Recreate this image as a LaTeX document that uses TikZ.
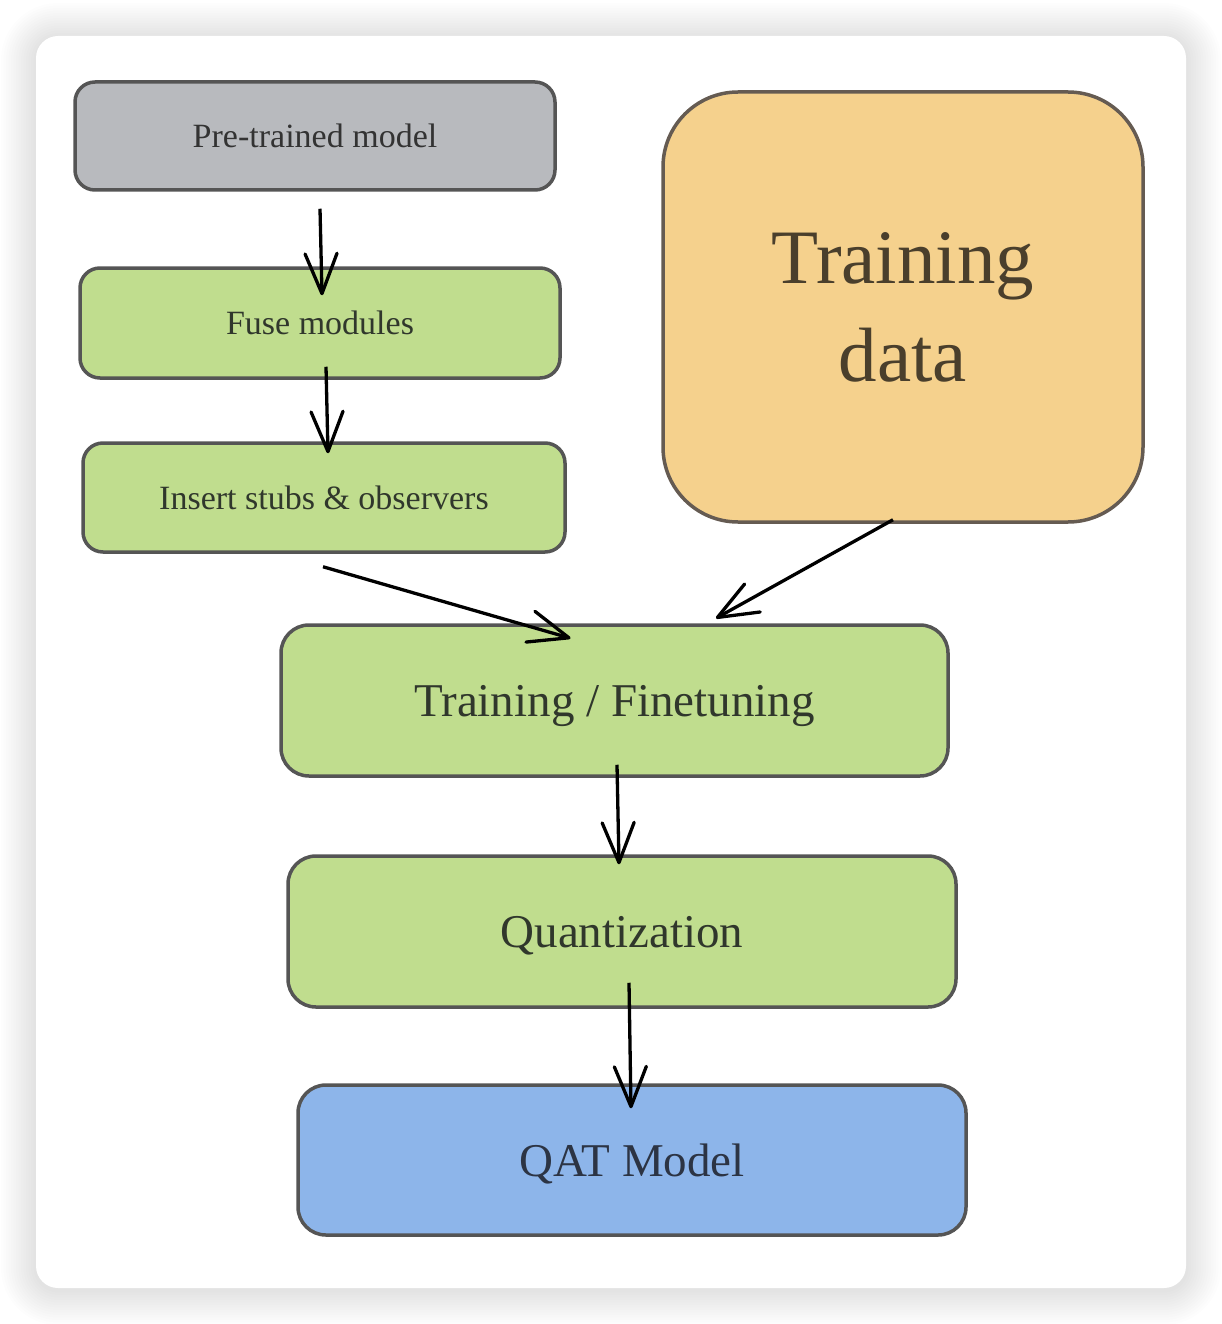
\documentclass[tikz,border=0pt]{standalone}
\usepackage{fontspec}
\setmainfont{Liberation Serif}
\usepackage{tikz}
\usetikzlibrary{arrows.meta}
\definecolor{modelgray}{HTML}{B8BABE}
\definecolor{stepgreen}{HTML}{C0DD8E}
\definecolor{dataorange}{HTML}{F5D18D}
\definecolor{qatblue}{HTML}{8DB5EA}
\definecolor{edge}{HTML}{555555}
\definecolor{ink}{HTML}{30372C}
\definecolor{dataink}{HTML}{4A3F2C}
\definecolor{qatink}{HTML}{2C3444}

\begin{document}
\begin{tikzpicture}[x=1pt,y=-1pt,
  box/.style={draw=edge, line width=3.5pt, rounded corners=20pt, inner sep=0pt, text=ink, text depth=0pt},
  smallbox/.style={box, minimum width=480pt, minimum height=108pt, font=\fontsize{34}{40}\selectfont},
  bigbox/.style={box, minimum width=668pt, minimum height=151pt, rounded corners=28pt, font=\fontsize{47}{56}\selectfont},
  flow/.style={line width=3.3pt, -{Straight Barb[length=40pt,width=32pt,round]}}]
\useasboundingbox (0,0) rectangle (1222,1324);
\fill[white] (0,0) rectangle (1222,1324);
% card + soft shadow
\foreach \i in {1,...,14}
  \fill[black, opacity=0.007, rounded corners={22+\i*2.5}]
    ({36-\i*2.5},{36-\i*2.5+2}) rectangle ({1186+\i*2.5},{1288+\i*2.5+2});
\fill[white, rounded corners=22pt] (36,36) rectangle (1186,1288);

% boxes
\node[smallbox, fill=modelgray, text=black!80] (pre) at (315,136) {Pre-trained model};
\node[smallbox, fill=stepgreen, minimum height=110pt] (fuse) at (320,323) {Fuse modules};
\node[smallbox, fill=stepgreen, minimum width=482pt, minimum height=109pt] (stubs) at (324,497.5) {Insert stubs \& observers};
\node[box, fill=dataorange, draw=edge!85!brown, text=dataink, text depth=, minimum width=480pt, minimum height=430pt,
      rounded corners=75pt, align=center, font=\fontsize{77}{98}\selectfont] (data) at (903,307) {Training\\data};
\node[bigbox, fill=stepgreen, minimum width=667pt] (train) at (614.5,700.5) {Training / Finetuning};
\node[bigbox, fill=stepgreen] (quant) at (622,931.5) {Quantization};
\node[bigbox, fill=qatblue, minimum height=150pt, text=qatink] (qat) at (632,1160) {QAT Model};

% arrows
\draw[flow] ([xshift=5pt,yshift=-17pt]pre.south) -- ([xshift=2pt,yshift=-29pt]fuse.north);
\draw[flow] ([xshift=6pt,yshift=13pt]fuse.south) -- ([xshift=4pt,yshift=-12pt]stubs.north);
\draw[flow] ([xshift=-1pt,yshift=-13pt]stubs.south) -- ([xshift=-44pt,yshift=-15pt]train.north);
\draw[flow] ([xshift=-10pt,yshift=4pt]data.south) -- ([xshift=101.5pt,yshift=5pt]train.north);
\draw[flow] ([xshift=2.5pt,yshift=13pt]train.south) -- ([xshift=-3pt,yshift=-10pt]quant.north);
\draw[flow] ([xshift=7pt,yshift=26pt]quant.south) -- ([xshift=-1pt,yshift=-25pt]qat.north);
\end{tikzpicture}
\end{document}
